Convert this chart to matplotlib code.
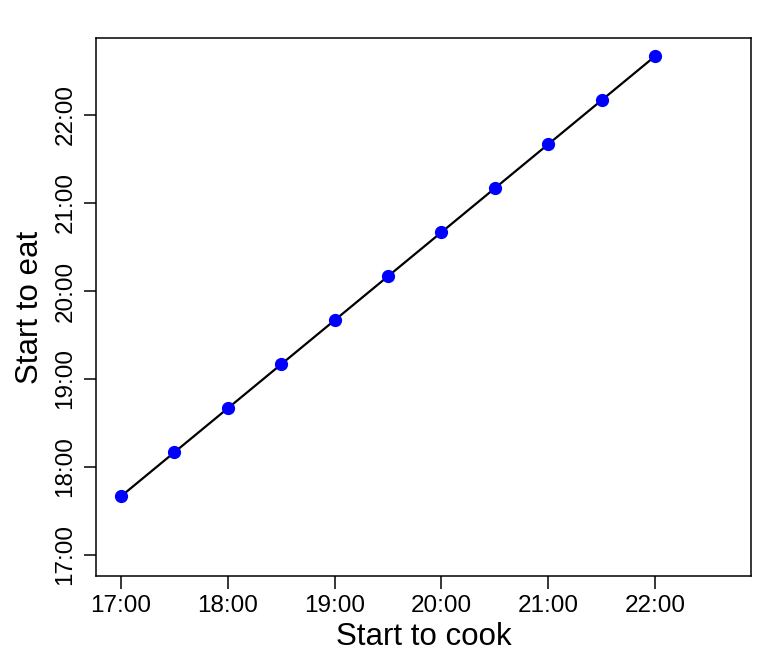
import matplotlib
matplotlib.use("Agg")
import matplotlib.pyplot as plt
from matplotlib.ticker import FuncFormatter

# cooking start vs eating start, in hours of the day
cook_start = [17.0, 17.5, 18.0, 18.5, 19.0, 19.5, 20.0, 20.5, 21.0, 21.5, 22.0]
eat_start = [17 + 40/60, 18 + 10/60, 18 + 40/60, 19 + 10/60, 19 + 40/60, 20 + 10/60,
             20 + 40/60, 21 + 10/60, 21 + 40/60, 22 + 10/60, 22 + 40/60]
tick_hours = [17, 18, 19, 20, 21, 22]

plt.rcParams["font.family"] = ["Liberation Sans", "DejaVu Sans"]

def hhmm(v, pos=None):
    h = int(v)
    m = int(round((v - h) * 60))
    return "{:d}:{:02d}".format(h, m)

fig = plt.figure(figsize=(7.7, 6.52), dpi=100)
ax = fig.add_axes([0.1247, 0.1166, 0.8506, 0.8251])

ax.plot(cook_start, eat_start, "-", color="black", lw=1.6, zorder=2)
ax.plot(cook_start, eat_start, "o", color="blue", ms=8.5, zorder=3)

ax.set_xlim(16.765, 22.9)
ax.set_ylim(16.76, 22.875)
ax.set_xticks(tick_hours)
ax.set_yticks(tick_hours)
ax.xaxis.set_major_formatter(FuncFormatter(hhmm))
ax.yaxis.set_major_formatter(FuncFormatter(hhmm))

ax.tick_params(labelsize=17.5, length=9, width=1.1, pad=5)
for lab in ax.get_yticklabels():
    lab.set_rotation(90)
    lab.set_va("center")
for s in ax.spines.values():
    s.set_linewidth(1.1)

ax.set_xlabel("Start to cook", fontsize=22.5, labelpad=3)
ax.set_ylabel("Start to eat", fontsize=22.5, labelpad=7)

fig.savefig("out.png", dpi=100)
